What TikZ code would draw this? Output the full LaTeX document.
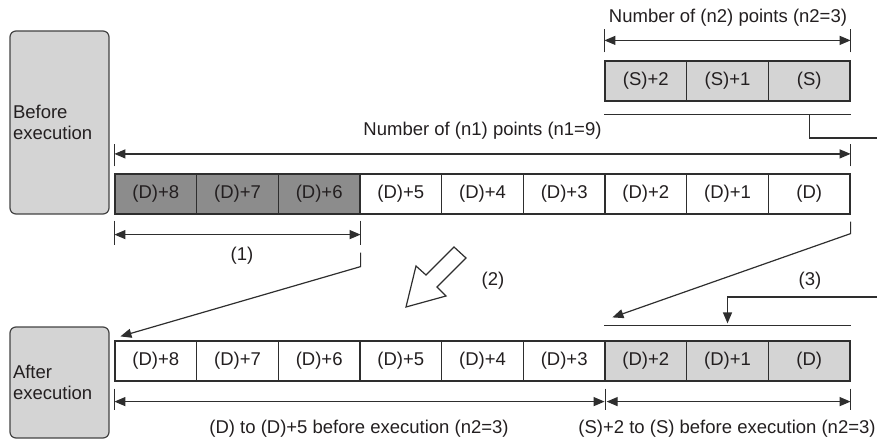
\documentclass[tikz,border=0pt]{standalone}
\usepackage{fontspec}
\setmainfont{Liberation Sans}
\usetikzlibrary{arrows.meta}
\definecolor{dk}{HTML}{8C8C8C}
\definecolor{lt}{HTML}{D4D4D4}
\definecolor{ln}{HTML}{2E2E2E}
\definecolor{txt}{HTML}{231F20}
\begin{document}
\begin{tikzpicture}[x=1pt,y=-1pt, line width=1.2pt, color=ln,
  txtfont/.style={font=\fontsize{18.5}{21.5}\selectfont, text=txt},
  cell/.style={draw=ln, txtfont, minimum width=81.667pt, minimum height=40pt, inner sep=0pt},
  stbox/.style={draw=ln!90, fill=lt, rounded corners=6pt, txtfont, minimum width=99pt, text width=93pt, align=left, inner xsep=3pt, inner ysep=0pt},
  lbl/.style={txtfont, inner sep=0pt},
  dim/.style={{Triangle[length=11pt,width=9pt]}-{Triangle[length=11pt,width=9pt]}},
  tip/.style={-{Triangle[length=11pt,width=9pt]}}]
\useasboundingbox (0,0) rectangle (877,441);

% state boxes
\node[stbox, minimum height=183pt] (before) at (59.5,122.5) {Before\\execution};
\node[stbox, minimum height=111pt] (after) at (59.5,382.5) {After\\execution};

% before row
\foreach \i/\t in {1/{(D)+8},2/{(D)+7},3/{(D)+6}}
  \node[cell, fill=dk] (b\i) at ({115+(\i-0.5)*81.667},194) {\t};
\foreach \i/\t in {4/{(D)+5},5/{(D)+4},6/{(D)+3},7/{(D)+2},8/{(D)+1},9/{(D)}}
  \node[cell, fill=white] (b\i) at ({115+(\i-0.5)*81.667},194) {\t};

% source row
\foreach \i/\t in {7/{(S)+2},8/{(S)+1},9/{(S)}}
  \node[cell, fill=lt] (s\i) at ({115+(\i-0.5)*81.667},81) {\t};

% after row
\foreach \i/\t in {1/{(D)+8},2/{(D)+7},3/{(D)+6},4/{(D)+5},5/{(D)+4},6/{(D)+3}}
  \node[cell, fill=white] (a\i) at ({115+(\i-0.5)*81.667},361) {\t};
\foreach \i/\t in {7/{(D)+2},8/{(D)+1},9/{(D)}}
  \node[cell, fill=lt] (a\i) at ({115+(\i-0.5)*81.667},361) {\t};

% n2 dimension
\draw ([yshift=8pt]s7.north west) -- ([yshift=31pt]s7.north west);
\draw ([yshift=8pt]s9.north east) -- ([yshift=31pt]s9.north east);
\draw[dim] ([yshift=20pt]s7.north west) -- ([yshift=20pt]s9.north east);
\node[lbl] (n2lbl) at (728,18) {Number of (n2) points (n2=3)};

% n1 dimension
\draw ([yshift=7pt]b1.north west) -- ([yshift=29pt]b1.north west);
\draw ([yshift=7pt]b9.north east) -- ([yshift=29pt]b9.north east);
\draw[dim] ([yshift=19.5pt]b1.north west) -- ([yshift=19.5pt]b9.north east);
\node[lbl] (n1lbl) at (482.5,131) {Number of (n1) points (n1=9)};

% (1) dimension
\draw ([yshift=-6pt]b1.south west) -- ([yshift=-30pt]b1.south west);
\draw ([yshift=-6pt]b3.south east) -- ([yshift=-30pt]b3.south east);
\draw[dim] ([yshift=-20pt]b1.south west) -- ([yshift=-20pt]b3.south east);
\node[lbl] (l1) at (242,256) {(1)};

% bottom dimensions
\draw ([yshift=-7pt]a1.south west) -- ([yshift=-28pt]a1.south west);
\draw ([yshift=-7pt]a6.south east) -- ([yshift=-28pt]a6.south east);
\draw ([yshift=-7pt]a9.south east) -- ([yshift=-28pt]a9.south east);
\draw[dim] ([yshift=-20pt]a1.south west) -- ([yshift=-20pt,xshift=-1pt]a6.south east);
\draw[dim] ([yshift=-20pt,xshift=1pt]a6.south east) -- ([yshift=-20pt]a9.south east);
\node[lbl] (lb1) at (359,429) {(D) to (D)+5 before execution (n2=3)};
\node[lbl] (lb2) at (727,429) {(S)+2 to (S) before execution (n2=3)};

% connector (1)
\draw[tip] ([yshift=-38pt]b3.south east) -- ([yshift=-52pt]b3.south east) -- ([xshift=6pt,yshift=4pt]a1.north west);

% connector from (D)
\draw[tip] ([yshift=-7pt]b9.south east) -- ([yshift=-19pt]b9.south east) -- ([xshift=8pt,yshift=23pt]a7.north west);

% source bracket line and exit
\coordinate (eS) at (877,138);
\draw ([yshift=-13pt]s7.south west) -- ([yshift=-13pt]s9.south east);
\draw ([yshift=-13pt]s9.south) -- (s9.south |- eS) -- (eS);

% (3)
\coordinate (e3) at (877,297);
\draw[tip] (e3) -- (a8.north |- e3) -- ([yshift=17pt]a8.north);
\draw ([yshift=15pt]a7.north west) -- ([yshift=15pt]a9.north east);
\node[lbl] (l3) at (810,281) {(3)};

% hollow arrow (2)
\draw[fill=white, line join=miter] (406,307) -- (416,266) -- (426,275) -- (454,247) -- (466,258) -- (437,287) -- (446,296) -- cycle;
\node[lbl] (l2) at (493,281) {(2)};
\end{tikzpicture}
\end{document}
